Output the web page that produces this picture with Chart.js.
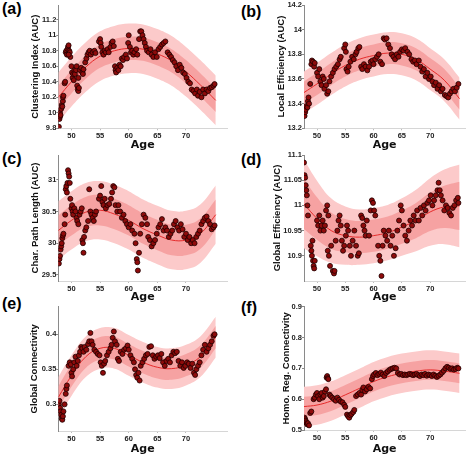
<!DOCTYPE html>
<html><head><meta charset="utf-8">
<script src="https://cdn.jsdelivr.net/npm/chart.js@4.4.1/dist/chart.umd.min.js"></script>
<style>
html,body{margin:0;padding:0;background:#fff;}
#wrap{position:relative;width:468px;height:456px;overflow:hidden;background:#fff;}
canvas{position:absolute;}
.lab{position:absolute;font:bold 16px "Liberation Sans",Arial,sans-serif;color:#000;line-height:1;}
</style></head><body><div id="wrap">
<div class="lab" style="left:2px;top:1px">(a)</div>
<div class="lab" style="left:241px;top:4px">(b)</div>
<div class="lab" style="left:2px;top:151px">(c)</div>
<div class="lab" style="left:241px;top:152px">(d)</div>
<div class="lab" style="left:2px;top:296px">(e)</div>
<div class="lab" style="left:241px;top:300px">(f)</div>
</div>
<script>
// ---------- shared ----------
const ageTicks = [50, 55, 60, 65, 70];
const fitAges = [47.7, 50, 52.5, 55, 57.5, 60, 62.5, 65, 67.5, 70, 72.5, 75.2];

// ---------- (a) Clustering Index ----------
const ticksA = [9.8, 10, 10.2, 10.4, 10.6, 10.8, 11, 11.2];
const fitA = [10.20, 10.40, 10.59, 10.73, 10.80, 10.83, 10.82, 10.76, 10.67, 10.53, 10.36, 10.16];
const innerA = [0.15, 0.15, 0.15, 0.15, 0.15, 0.15, 0.15, 0.15, 0.15, 0.15, 0.15, 0.15];
const outerA = [0.32, 0.32, 0.32, 0.32, 0.32, 0.32, 0.32, 0.32, 0.32, 0.32, 0.32, 0.32];
const pointsA = [[47.8,9.82],[47.9,9.92],[48.0,9.95],[48.0,10.0],[48.1,9.97],[48.2,10.05],[48.3,10.1],[48.4,10.08],[48.5,10.15],[48.5,10.2],[48.6,10.22],[48.8,10.38],[48.9,10.4],
[49.0,10.78],[49.1,10.8],[49.2,10.75],[49.3,10.82],[49.4,10.85],[49.5,10.87],[49.6,10.8],[49.7,10.78],[49.8,10.72],[49.5,10.75],
[50.0,10.6],[50.1,10.52],[50.2,10.45],[50.3,10.5],[50.4,10.42],[50.5,10.55],[50.6,10.5],[50.8,10.55],[50.9,10.6],
[51.0,10.35],[51.1,10.3],[51.2,10.28],[51.3,10.32],[51.2,10.45],[51.5,10.55],[51.7,10.58],[51.9,10.52],[52.0,10.5],[52.1,10.56],
[52.4,10.65],[52.6,10.7],[52.8,10.75],[53.0,10.78],[53.2,10.8],[53.4,10.75],[53.7,10.78],[54.0,10.8],[54.2,10.77],
[54.8,10.92],[55.0,10.95],[55.1,10.9],[55.2,10.85],[55.4,10.78],[55.6,10.75],[55.8,10.8],[56.0,10.78],[56.3,10.82],[56.5,10.78],[56.8,10.85],[57.0,10.9],[57.2,10.92],[57.4,10.86],
[57.6,10.6],[57.7,10.55],[57.8,10.52],[58.0,10.58],[58.2,10.55],[58.4,10.62],[58.6,10.6],
[58.8,10.7],[59.0,10.68],[59.2,10.72],[59.5,10.75],[59.7,10.7],[59.9,10.9],[60.0,11.0],[60.2,10.85],[60.4,10.78],[60.6,10.8],[60.8,10.75],[61.0,10.78],[61.3,10.82],[61.5,10.75],
[61.8,10.95],[62.0,11.05],[62.2,11.05],[62.4,11.0],[62.6,10.95],[62.8,10.9],[63.0,10.85],
[63.2,10.8],[63.5,10.78],[63.8,10.82],[64.0,10.75],[64.3,10.72],[64.6,10.78],[64.9,10.72],
[65.2,10.82],[65.5,10.85],[65.8,10.88],[66.1,10.9],[66.4,10.92],
[66.8,10.78],[67.1,10.75],[67.4,10.72],[67.7,10.68],[68.0,10.65],[68.3,10.6],[68.6,10.55],
[68.9,10.62],[69.2,10.58],[69.5,10.52],[69.8,10.5],[70.1,10.45],[70.4,10.4],[70.7,10.38],
[71.0,10.3],[71.3,10.28],[71.6,10.25],[71.9,10.3],[72.1,10.22],[72.4,10.27],
[72.7,10.2],[73.0,10.3],[73.3,10.25],[73.6,10.3],[73.9,10.28],[74.2,10.32],[74.5,10.33],[74.8,10.35],[75.0,10.37]];

// ---------- (b) Local Efficiency ----------
const ticksB = [13.2, 13.4, 13.6, 13.8, 14, 14.2];
const fitB = [13.49, 13.56, 13.64, 13.71, 13.76, 13.79, 13.81, 13.80, 13.76, 13.68, 13.59, 13.44];
const innerB = [0.09, 0.09, 0.09, 0.09, 0.09, 0.09, 0.09, 0.09, 0.09, 0.09, 0.09, 0.09];
const outerB = [0.17, 0.17, 0.17, 0.17, 0.17, 0.17, 0.17, 0.17, 0.17, 0.17, 0.17, 0.17];
const pointsB = [[47.8,13.3],[47.9,13.33],[48.0,13.35],[48.1,13.38],[48.3,13.37],[48.4,13.42],[48.5,13.45],[48.6,13.4],[48.8,13.56],
[49.0,13.72],[49.1,13.75],[49.3,13.74],[49.5,13.7],[49.6,13.73],
[50.0,13.65],[50.2,13.62],[50.4,13.68],[50.6,13.58],[50.8,13.55],[51.0,13.62],[51.2,13.6],[51.3,13.52],[51.6,13.55],[51.8,13.48],[52.0,13.5],[52.2,13.58],
[52.5,13.62],[52.8,13.65],[53.1,13.68],[53.4,13.7],[53.7,13.72],[54.0,13.76],[54.2,13.78],
[54.8,13.85],[55.0,13.88],[55.1,13.82],[55.2,13.68],[55.4,13.66],[55.6,13.7],[55.9,13.74],[56.2,13.78],[56.5,13.76],[56.8,13.8],[57.0,13.82],[57.3,13.85],[57.5,13.86],
[57.8,13.7],[58.0,13.68],[58.3,13.72],[58.6,13.7],[58.9,13.67],[59.2,13.7],[59.5,13.74],
[59.8,13.75],[60.0,13.72],[60.3,13.76],[60.6,13.78],[60.9,13.8],[61.2,13.74],[61.5,13.72],
[61.8,13.93],[62.0,13.92],[62.3,13.93],[62.6,13.88],[62.9,13.85],[63.2,13.8],[63.5,13.78],
[63.8,13.76],[64.1,13.8],[64.4,13.78],[64.7,13.82],[65.0,13.84],[65.3,13.83],[65.6,13.85],[66.0,13.82],[66.3,13.8],
[66.7,13.76],[67.0,13.74],[67.3,13.75],[67.6,13.72],[68.0,13.75],[68.3,13.7],[68.6,13.66],[68.9,13.68],[69.2,13.62],[69.5,13.65],[69.8,13.6],
[70.1,13.62],[70.4,13.58],[70.7,13.55],[71.0,13.57],[71.3,13.52],[71.6,13.55],[71.9,13.5],[72.2,13.52],
[72.6,13.47],[72.9,13.46],[73.2,13.45],[73.5,13.48],[73.8,13.5],[74.1,13.52],[74.4,13.5],[74.7,13.53],[75.0,13.56]];

// ---------- (c) Char. Path Length ----------
const ticksC = [29.5, 30, 30.5, 31];
const fitC = [30.20, 30.36, 30.49, 30.52, 30.46, 30.36, 30.23, 30.13, 30.05, 30.05, 30.15, 30.45];
const innerC = [0.24, 0.24, 0.24, 0.24, 0.24, 0.24, 0.24, 0.24, 0.24, 0.24, 0.24, 0.24];
const outerC = [0.46, 0.46, 0.46, 0.46, 0.46, 0.46, 0.46, 0.46, 0.46, 0.46, 0.46, 0.46];
const pointsC = [[47.8,29.68],[47.9,29.75],[48.0,29.8],[48.1,29.9],[48.2,29.95],[48.3,30.0],[48.4,30.08],[48.5,30.12],[48.6,30.15],[48.8,30.3],[48.9,30.45],
[49.0,30.85],[49.1,30.9],[49.2,30.8],[49.3,30.95],[49.4,31.15],[49.5,31.1],[49.6,31.05],[49.7,30.95],[49.8,30.7],
[50.0,30.55],[50.1,30.6],[50.2,30.5],[50.3,30.45],[50.5,30.55],[50.7,30.5],[50.9,30.4],[51.0,30.35],[51.2,30.3],[51.4,30.45],[51.6,30.5],[51.8,30.55],
[51.9,30.05],[52.0,30.0],[52.1,29.85],[52.2,30.1],[52.4,30.2],[52.6,30.25],
[52.9,30.35],[53.1,30.85],[53.3,30.5],[53.5,30.45],[53.7,30.4],[53.9,30.35],[54.1,30.45],[54.3,30.5],
[54.8,30.7],[55.0,30.75],[55.2,30.9],[55.4,30.65],[55.6,30.6],[55.8,30.7],[56.0,30.55],[56.3,30.6],[56.6,30.62],[56.9,30.7],[57.1,30.8],[57.3,30.9],[57.5,30.88],[57.7,30.6],
[58.0,30.5],[58.2,30.6],[58.5,30.5],[58.8,30.4],[59.1,30.45],[59.4,30.35],[59.7,30.3],[60.0,30.25],[60.3,30.3],[60.6,30.2],
[61.0,30.15],[61.2,30.0],[61.4,29.75],[61.5,29.7],[61.6,29.57],[61.8,29.85],[62.0,30.15],[62.3,30.3],
[62.6,30.45],[62.9,30.4],[63.2,30.3],[63.4,30.1],[63.7,30.05],[64.0,29.95],[64.3,30.0],[64.6,30.05],[64.9,30.15],
[65.2,30.25],[65.5,30.3],[65.8,30.38],[66.1,30.2],[66.4,30.25],[66.7,30.2],[67.0,30.1],[67.3,30.15],[67.6,30.2],
[67.9,30.3],[68.2,30.35],[68.5,30.25],[68.8,30.2],[69.1,30.3],[69.4,30.22],[69.7,30.1],[70.0,30.15],[70.3,30.05],[70.6,30.1],
[70.9,30.0],[71.2,30.05],[71.5,30.0],[71.8,30.1],[72.1,30.15],[72.4,30.2],[72.7,30.3],[73.0,30.35],[73.3,30.4],[73.6,30.42],[73.9,30.35],[74.2,30.3],[74.5,30.22],[74.8,30.25],[75.0,30.28]];

// ---------- (d) Global Efficiency ----------
const ticksD = [10.9, 10.95, 11, 11.05, 11.1];
const fitD = [11.003, 10.974, 10.950, 10.940, 10.937, 10.940, 10.946, 10.957, 10.970, 10.987, 10.997, 10.999];
const innerD = [0.050, 0.042, 0.036, 0.033, 0.032, 0.032, 0.032, 0.033, 0.035, 0.038, 0.042, 0.048];
const outerD = [0.088, 0.075, 0.064, 0.058, 0.055, 0.055, 0.055, 0.057, 0.061, 0.067, 0.074, 0.082];
const pointsD = [[47.7,11.085],[47.8,11.06],[47.9,11.055],[48.0,11.04],[48.1,11.03],[48.2,11.02],[48.3,11.0],[48.4,10.98],
[48.9,10.92],[49.0,10.91],[49.1,10.9],[49.2,10.93],[49.3,10.89],[49.4,10.88],[49.5,10.875],[49.6,10.89],
[50.0,10.97],[50.2,10.96],[50.4,10.98],[50.6,10.95],[50.8,10.96],[51.0,10.97],[51.2,10.95],[51.4,10.96],
[51.6,10.99],[51.8,11.0],[52.0,10.98],[51.9,10.91],[52.1,10.9],[52.3,10.88],[52.5,10.92],
[52.8,10.87],[53.0,10.865],[53.1,10.87],[53.3,10.93],[53.6,10.95],[53.8,10.97],[54.0,10.98],[54.2,10.96],
[54.4,10.93],[54.6,10.91],[54.8,10.92],[55.1,10.94],[55.3,10.96],[55.5,10.95],[55.8,10.92],[56.0,10.9],[56.3,10.93],[56.6,10.95],[56.9,10.92],[57.2,10.9],[57.4,10.905],
[57.8,10.98],[58.0,10.975],[58.2,10.96],[58.4,10.95],[58.6,10.94],[58.8,10.97],
[59.2,10.94],[59.5,10.99],[59.7,11.01],[59.9,11.005],[60.1,10.99],[60.3,10.98],
[60.8,10.92],[61.0,10.9],[61.2,10.89],[61.4,10.86],[61.6,10.92],[61.8,10.95],
[62.1,10.94],[62.4,10.93],[62.7,10.95],[63.0,10.92],[63.3,10.94],[63.6,10.9],[63.9,10.915],[64.2,10.95],[64.5,10.97],[64.8,11.0],[65.0,10.99],
[65.3,10.96],[65.6,10.94],[65.9,10.93],[66.2,10.95],[66.5,10.97],[66.8,10.96],[67.1,10.98],[67.4,10.97],[67.7,10.99],
[68.0,10.97],[68.3,10.995],[68.6,10.98],[68.9,11.0],[69.2,10.99],[69.5,11.005],[69.8,11.01],[70.1,11.02],[70.4,11.0],[70.7,11.01],[71.0,11.02],[71.3,11.03],[71.5,11.045],[71.7,11.03],[71.9,11.02],
[72.2,11.01],[72.5,10.99],[72.8,11.0],[73.1,10.995],[73.4,10.985],[73.7,10.98],[74.0,10.995],[74.3,11.0],[74.6,11.01],[74.9,11.015],[75.0,11.005]];

// ---------- (e) Global Connectivity ----------
const ticksE = [0.3, 0.35, 0.4];
const fitE = [0.310, 0.341, 0.368, 0.380, 0.380, 0.370, 0.360, 0.353, 0.351, 0.356, 0.368, 0.396];
const innerE = [0.016, 0.016, 0.016, 0.016, 0.016, 0.016, 0.016, 0.016, 0.016, 0.016, 0.016, 0.016];
const outerE = [0.029, 0.029, 0.029, 0.029, 0.029, 0.029, 0.029, 0.029, 0.029, 0.029, 0.029, 0.029];
const pointsE = [[47.8,0.30],[47.9,0.305],[48.0,0.295],[48.1,0.29],[48.2,0.285],[48.3,0.28],[48.4,0.278],[48.5,0.283],[48.6,0.29],[48.8,0.30],[49.0,0.315],[49.1,0.322],[49.2,0.327],
[49.5,0.355],[49.7,0.36],[49.9,0.357],[50.0,0.345],[50.1,0.34],[50.3,0.35],[50.5,0.36],[50.7,0.368],
[50.9,0.355],[51.1,0.362],[51.3,0.37],[51.5,0.375],[51.7,0.382],[51.9,0.38],[52.1,0.375],[52.3,0.382],[52.6,0.378],[52.9,0.386],[53.1,0.39],[53.3,0.402],[53.5,0.39],[53.7,0.385],
[54.0,0.378],[54.3,0.375],[54.6,0.372],[54.9,0.37],[55.1,0.36],[55.3,0.355],[55.5,0.345],[55.7,0.358],[55.9,0.362],[56.2,0.37],
[56.5,0.375],[56.8,0.38],[57.0,0.385],[57.2,0.395],[57.4,0.404],[57.6,0.39],[57.9,0.385],[58.1,0.365],[58.3,0.362],
[58.6,0.375],[58.9,0.372],[59.2,0.378],[59.5,0.38],[59.8,0.384],[60.0,0.378],[60.3,0.37],[60.6,0.365],[60.9,0.36],
[61.1,0.35],[61.3,0.342],[61.5,0.338],[61.7,0.345],[61.9,0.334],[62.1,0.355],[62.4,0.36],
[62.7,0.365],[63.0,0.37],[63.3,0.372],[63.6,0.382],[63.9,0.383],[64.2,0.37],[64.5,0.365],[64.8,0.368],[65.1,0.37],[65.4,0.366],[65.7,0.372],
[66.0,0.36],[66.3,0.355],[66.6,0.362],[66.9,0.365],[67.2,0.36],[67.5,0.37],[67.8,0.375],[68.1,0.373],[68.4,0.375],[68.7,0.362],
[69.0,0.355],[69.3,0.36],[69.6,0.352],[69.9,0.355],[70.2,0.36],[70.5,0.358],[70.8,0.352],[71.1,0.358],[71.4,0.345],[71.6,0.342],[71.8,0.35],
[72.1,0.355],[72.4,0.36],[72.7,0.37],[73.0,0.378],[73.3,0.385],[73.6,0.375],[73.9,0.38],[74.2,0.385],[74.5,0.39],[74.8,0.398],[75.0,0.4]];

// ---------- (f) Homo. Reg. Connectivity ----------
const ticksF = [0.5, 0.6, 0.7, 0.8, 0.9];
const fitF = [0.576, 0.581, 0.594, 0.614, 0.635, 0.657, 0.673, 0.684, 0.691, 0.695, 0.691, 0.684];
const innerF = [0.032, 0.032, 0.032, 0.032, 0.032, 0.032, 0.032, 0.032, 0.032, 0.032, 0.032, 0.032];
const outerF = [0.064, 0.064, 0.064, 0.064, 0.064, 0.064, 0.064, 0.064, 0.064, 0.064, 0.064, 0.064];
const pointsF = [[47.8,0.54],[47.9,0.535],[48.0,0.53],[48.1,0.525],[48.2,0.52],[48.3,0.518],[48.4,0.522],[48.6,0.515],[48.8,0.555],[49.0,0.56],
[49.4,0.6],[49.6,0.605],[49.8,0.615],[50.0,0.62],[50.2,0.61],[50.4,0.6],[50.6,0.615],[50.8,0.62],[51.0,0.605],[51.2,0.61],[51.4,0.625],[51.6,0.632],
[51.7,0.67],[51.8,0.675],[51.9,0.668],[52.0,0.665],
[52.2,0.615],[52.4,0.61],[52.7,0.605],[53.0,0.6],[53.3,0.595],[53.6,0.605],[53.9,0.598],[54.2,0.592],[54.5,0.59],[54.8,0.582],[55.0,0.575],
[55.3,0.55],[55.5,0.545],[55.7,0.54],[55.9,0.548],[56.1,0.552],[56.4,0.558],[56.6,0.565],
[56.9,0.61],[57.2,0.615],[57.5,0.62],[57.8,0.615],[58.0,0.63],[58.2,0.638],[58.5,0.625],[58.8,0.632],[59.1,0.64],[59.4,0.635],
[59.7,0.665],[59.9,0.675],[60.1,0.68],[60.4,0.685],[60.7,0.678],[61.0,0.682],[61.3,0.686],[61.6,0.68],[61.9,0.675],[62.2,0.685],[62.5,0.69],[62.8,0.695],[63.1,0.698],[63.4,0.7],[63.7,0.702],[64.0,0.7],
[64.3,0.685],[64.6,0.68],[64.9,0.682],[65.2,0.678],[65.5,0.68],[65.8,0.678],[66.1,0.68],[66.4,0.682],[66.7,0.68],[67.0,0.678],[67.3,0.68],[67.6,0.682],[67.9,0.678],[68.2,0.675],[68.5,0.68],[68.8,0.678],[69.1,0.682],[69.4,0.676],[69.7,0.68],[70.0,0.678],
[70.3,0.675],[70.6,0.68],[70.9,0.676],[71.2,0.672],[71.5,0.676],[71.8,0.68],[72.1,0.686],[72.4,0.692],[72.7,0.7],[73.0,0.705],[73.3,0.702],[73.6,0.698],[73.9,0.7],[74.2,0.696],[74.5,0.698],[74.8,0.702],[75.0,0.7]];

// ---------- layout & drawing ----------
const panels = [
  {left:0,   top:0,   w:232, h:152, plotL:58.3, plotR:231.7, xmax:77.2, plotT:5,     plotB:128.3, ymin:9.8,   ymax:11.39, ticks:ticksA, title:'Clustering Index (AUC)', titleX:35.7, pts:pointsA, fit:fitA, inner:innerA, outer:outerA},
  {left:234, top:0,   w:236, h:152, plotL:304,  plotR:469,   xmax:76.2, plotT:5,     plotB:128.3, ymin:13.2,  ymax:14.2,  ticks:ticksB, title:'Local Efficiency (AUC)', titleX:281.5, pts:pointsB, fit:fitB, inner:innerB, outer:outerB},
  {left:0,   top:150, w:232, h:154, plotL:58.3, plotR:231.7, xmax:77.2, plotT:155,   plotB:281,   ymin:29.405,ymax:31.39, ticks:ticksC, title:'Char. Path Length (AUC)', titleX:35.5, pts:pointsC, fit:fitC, inner:innerC, outer:outerC},
  {left:234, top:150, w:236, h:154, plotL:304,  plotR:469,   xmax:76.2, plotT:155,   plotB:281,   ymin:10.85, ymax:11.1,  ticks:ticksD, title:'Global Efficiency (AUC)', titleX:277, pts:pointsD, fit:fitD, inner:innerD, outer:outerD},
  {left:0,   top:300, w:232, h:156, plotL:58.3, plotR:231.7, xmax:77.2, plotT:306.7, plotB:431,   ymin:0.262, ymax:0.4394,ticks:ticksE, title:'Global Connectivity', titleX:34.5, pts:pointsE, fit:fitE, inner:innerE, outer:outerE},
  {left:234, top:300, w:236, h:156, plotL:304,  plotR:469,   xmax:76.2, plotT:306.7, plotB:430,   ymin:0.5,   ymax:0.9,   ticks:ticksF, title:'Homo. Reg. Connectivity', titleX:286, pts:pointsF, fit:fitF, inner:innerF, outer:outerF}
];

const TICK_FONT = {family:'"Liberation Sans", Arial, sans-serif', size:7.5, weight:'bold'};
const YT_FONT = {family:'"Liberation Sans", Arial, sans-serif', size:9.5, weight:'bold'};
const XT_FONT = {family:'"DejaVu Sans", sans-serif', size:11, weight:'bold'};

function band(p, arr, sign) {
  return fitAges.map((a, i) => ({x:a, y:p.fit[i] + sign * arr[i]}));
}

const wrap = document.getElementById('wrap');
panels.forEach(p => {
  const c = document.createElement('canvas');
  c.width = p.w; c.height = p.h;
  c.style.left = p.left + 'px'; c.style.top = p.top + 'px';
  c.style.width = p.w + 'px'; c.style.height = p.h + 'px';
  wrap.appendChild(c);
  const bottomH = p.top + p.h - p.plotB;
  const leftW = p.plotL - p.left;
  new Chart(c, {
    type: 'line',
    data: {
      datasets: [
        {data: p.pts.map(d => ({x:d[0], y:d[1]})), showLine:false, order:0,
         pointRadius:2.5, pointBackgroundColor:'#8e0b0b', pointBorderColor:'#1e0000', pointBorderWidth:0.8},
        {data: fitAges.map((a,i) => ({x:a, y:p.fit[i]})), order:1, borderColor:'#e52b2b', borderWidth:1, pointRadius:0, tension:0.4, fill:false},
        {data: band(p, p.inner, 1), order:2, borderWidth:0, pointRadius:0, tension:0.4, fill:'+1', backgroundColor:'#f6a2a2'},
        {data: band(p, p.inner, -1), order:2, borderWidth:0, pointRadius:0, tension:0.4, fill:false},
        {data: band(p, p.outer, 1), order:3, borderWidth:0, pointRadius:0, tension:0.4, fill:'+1', backgroundColor:'#fccaca'},
        {data: band(p, p.outer, -1), order:3, borderWidth:0, pointRadius:0, tension:0.4, fill:false}
      ]
    },
    options: {
      responsive:false, animation:false, devicePixelRatio:1,
      layout:{padding:{left:0, top:p.plotT - p.top, right:p.left + p.w - p.plotR, bottom:0}},
      plugins:{legend:{display:false}, tooltip:{enabled:false}},
      scales:{
        x:{type:'linear', min:47.7, max:p.xmax,
           afterBuildTicks: s => { s.ticks = ageTicks.map(v => ({value:v})); },
           afterFit: s => { s.height = bottomH; s.paddingLeft = 0; s.paddingRight = 0; },
           grid:{drawOnChartArea:false, drawTicks:true, tickLength:2, color:'#bdbdbd'},
           border:{display:true, color:'#d6d6d6', width:1},
           ticks:{font:TICK_FONT, color:'#222', padding:1, maxRotation:0, autoSkip:false, callback: v => String(v)},
           title:{display:true, text:'Age', font:XT_FONT, color:'#111', padding:{top:0, bottom:0}}},
        y:{type:'linear', min:p.ymin, max:p.ymax,
           afterBuildTicks: s => { s.ticks = p.ticks.map(v => ({value:v})); },
           afterFit: s => { s.width = leftW; s.paddingTop = 0; s.paddingBottom = 0; },
           grid:{drawOnChartArea:false, drawTicks:true, tickLength:2, color:'#888'},
           border:{display:true, color:'#8a8a8a', width:1},
           ticks:{font:TICK_FONT, color:'#222', padding:0, autoSkip:false, callback: v => String(v)},
           title:{display:true, text:p.title, font:YT_FONT, color:'#111', padding:{top:p.titleX - p.left - 5.7, bottom:0}}}
      }
    }
  });
});
</script>
</body></html>
